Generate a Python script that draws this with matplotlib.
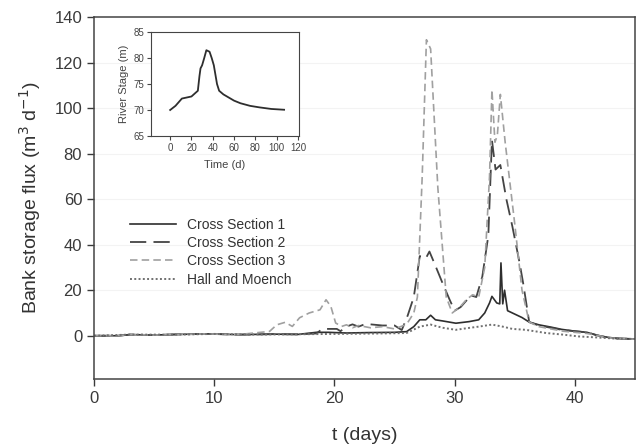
import numpy as np
import matplotlib
matplotlib.use("Agg")
import matplotlib.pyplot as plt

plt.rcParams['font.family'] = ['Liberation Sans', 'DejaVu Sans']

## 데이터
# Cross Section 1
t_cs1 = [0, 2, 3, 5, 7, 9.5, 12, 15, 17, 18.5, 19.5, 21, 23, 25, 26, 26.6, 27.1, 27.6, 28, 28.4,
         29, 30.1, 31.2, 32, 32.5, 32.9, 33.1, 33.5, 33.75, 33.85, 34.0, 34.15, 34.4, 35, 35.6,
         36.2, 37, 38, 38.9, 40, 41, 41.7, 42.5, 43.5, 45]
q_cs1 = [0, 0, 0.5, 0.3, 0.6, 0.8, 0.5, 0.7, 0.6, 1.5, 1.5, 1.2, 1.4, 1.5, 1.8, 4, 7, 7, 9, 7,
         6.5, 5.5, 6.2, 7, 10, 14.4, 17.3, 14.4, 14, 32, 14, 20, 11, 9.5, 8,
         6, 4.8, 3.8, 2.8, 2, 1.5, 0.4, -0.5, -1.2, -1.4]

# Cross Section 2
t_cs2 = [0, 2, 3, 5, 7, 9.5, 12, 15, 17, 18.5, 19.0, 19.3, 20.2, 20.5, 21, 21.5, 22, 22.5, 23, 24,
         25, 25.6, 26.1, 26.6, 27.1, 27.6, 27.9, 28.3, 29, 29.6, 30, 30.5, 31, 31.3, 31.8, 32.3,
         32.8, 33.1, 33.4, 33.8, 34.3, 34.8, 35.4, 35.7, 36.2, 37, 38, 39, 40, 41, 42, 43, 45]
q_cs2 = [0, 0, 0.5, 0.3, 0.6, 0.8, 0.5, 0.7, 0.6, 1, 3, 3, 3, 2, 4, 5, 4, 5, 5, 4.5,
         4.5, 2.5, 9, 17, 35, 34, 37, 32, 23, 15.6, 11, 12.6, 15.6, 17.8, 17, 26,
         44, 86, 73, 75, 60, 48, 32, 23, 6, 4.5, 3.5, 2.5, 2, 1.5, 0, -1, -1.5]

# Cross Section 3
t_cs3 = [0, 2, 3, 5, 7, 9.5, 12, 14.6, 15.2, 15.9, 16.5, 17.1, 17.9, 18.8, 19.3, 19.7, 20.1, 20.6,
         21, 21.5, 22, 23, 24, 25, 26.0, 26.6, 26.9, 27.3, 27.65, 28.0, 28.6, 29.3, 29.8, 30.5,
         31, 31.5, 32, 32.5, 32.9, 33.1, 33.35, 33.55, 33.8, 34.2, 35, 35.6, 36.2, 37, 38, 39,
         40, 41, 42, 43, 45]
q_cs3 = [0, 0, 0.5, 0.3, 0.6, 0.8, 0.5, 1.9, 4.8, 5.9, 4.1, 7.9, 10, 11.4, 15.8, 12.9, 5.6, 4.1,
         4.8, 3.5, 4.5, 3.5, 4, 3, 5, 10, 17, 70, 130, 126, 65, 17, 10, 13,
         16, 18, 17, 30, 70, 108, 85, 88, 106, 85, 49, 20, 6, 4, 3, 2,
         1.5, 1, 0, -1, -1.5]

# Hall and Moench
t_hm = [0, 3, 7, 10, 13, 16, 20, 24, 26, 27.1, 28, 29, 30.1, 31, 32, 33.1, 34, 34.8, 35.9,
        37.6, 39, 40.3, 42, 43.5, 45]
q_hm = [0, 0.5, 0.5, 0.8, 0.5, 0.6, 0.8, 1.0, 1.2, 4, 4.9, 3.5, 2.6, 3.3, 4, 4.9, 4, 3, 2.6,
        1.2, 0.5, -0.3, -0.8, -1.3, -1.4]

# 하천 수위 (inset)
t_stage = [0, 5, 11, 20, 26, 27.5, 28.5, 30, 32, 34, 37, 39, 41, 44, 46, 50, 55, 60, 66, 75, 84, 95, 107]
stage = [70.0, 70.8, 72.2, 72.6, 73.7, 76.5, 78, 78.6, 80, 81.5, 81.2, 80, 78.6, 75, 73.7, 73,
         72.4, 71.8, 71.3, 70.8, 70.5, 70.2, 70.05]

## 그래프
fig = plt.figure(figsize=(6.37, 4.45), dpi=100)
ax = fig.add_axes([94/637, 1 - 379/445, (635 - 94)/637, (379 - 17)/445])

ax.plot(t_cs1, q_cs1, color='#2e2e2e', lw=1.2, ls='-', label='Cross Section 1')
ax.plot(t_cs2, q_cs2, color='#444444', lw=1.3, ls=(0, (9, 4)), label='Cross Section 2')
ax.plot(t_cs3, q_cs3, color='#a0a0a0', lw=1.2, ls=(0, (4.5, 2.5)), label='Cross Section 3')
ax.plot(t_hm, q_hm, color='#707070', lw=1.4, ls=(0, (1, 1.2)), label='Hall and Moench')

ax.set_xlim(0, 45)
ax.set_ylim(-19, 140)
ax.set_xticks([0, 10, 20, 30, 40])
ax.set_yticks([0, 20, 40, 60, 80, 100, 120, 140])
for yy in [20, 40, 60, 80, 100, 120]:
    ax.axhline(yy, color='#f3f3f3', lw=0.8, zorder=0)
ax.tick_params(direction='out', length=5, width=1, labelsize=12, colors='#3a3a3a')
for s in ax.spines.values():
    s.set_color('#444444')
    s.set_linewidth(1.1)
ax.set_xlabel('t (days)', fontsize=14, color='#333333', labelpad=15)
ax.set_ylabel('Bank storage flux (m$^3$ d$^{-1}$)', fontsize=14, color='#333333', labelpad=8)

ax.legend(loc='upper left', bbox_to_anchor=(130/637, 1 - 218/445), bbox_transform=fig.transFigure,
          frameon=False, fontsize=10, handlelength=3.3, handletextpad=0.8, labelspacing=0.3,
          borderpad=0, borderaxespad=0, labelcolor='#333333')

# inset
ins = fig.add_axes([151/637, 1 - 136/445, (299 - 151)/637, (136 - 32)/445])
ins.plot(t_stage, stage, color='#2e2e2e', lw=1.3)
ins.set_xlim(-18, 121)
ins.set_ylim(65, 85)
ins.set_xticks([0, 20, 40, 60, 80, 100, 120])
ins.set_yticks([65, 70, 75, 80, 85])
ins.tick_params(direction='out', length=3, width=0.8, labelsize=7, colors='#444444', pad=2)
for s in ins.spines.values():
    s.set_color('#444444')
ins.set_xlabel('Time (d)', fontsize=8, color='#444444', labelpad=5)
ins.set_ylabel('River Stage (m)', fontsize=8, color='#444444', labelpad=3)

fig.savefig('out.png', dpi=100)
